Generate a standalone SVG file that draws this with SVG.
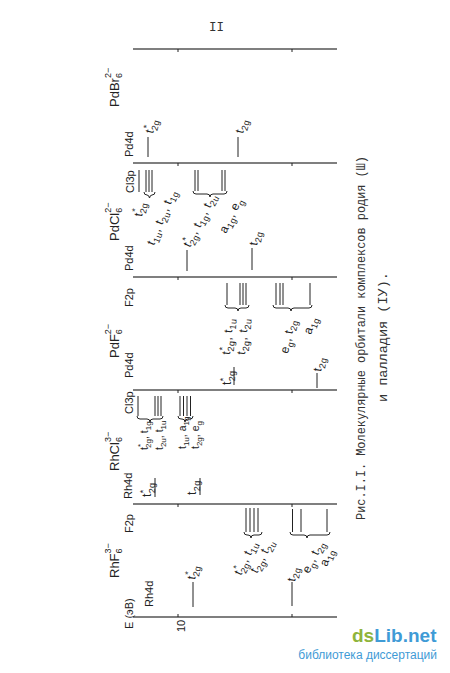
<svg xmlns="http://www.w3.org/2000/svg" width="450" height="673" viewBox="0 0 450 673">
<style>
.t{font-family:"Liberation Sans","DejaVu Sans",sans-serif;font-size:11px;fill:#222}
.l{font-size:12px;letter-spacing:0.4px}
.m{font-size:10.5px;letter-spacing:0}
.h{font-size:13px}
.s{font-size:9px}
.s2{font-size:8px}
.hs{font-size:9px}
.cap{font-family:"Liberation Mono","DejaVu Sans Mono",monospace;font-size:12.5px;fill:#333}
.sep{stroke:#555;stroke-width:1.6;fill:none}
.lv{stroke:#222;stroke-width:1;fill:none}
.br{fill:none;stroke:#222;stroke-width:1}
</style>
<rect width="450" height="673" fill="#fff"/>
<text class="cap" x="209" y="31" font-size="11">II</text>

<g id="axes">
  <path class="sep" d="M133 49H337M133 163H337M133 277H337M133 390H337M133 504H337M133 617H337"/>
  <path class="lv" d="M178 49v3M292 49v3M178 163v3M292 163v3M178 277v3M292 277v3M178 390v3M292 390v3M178 504v3M292 504v3M178 614v3M292 614v3"/>
</g>

<g id="panel-PdBr6">
  <text class="t h" transform="translate(119,107) rotate(-90)">PdBr<tspan class="hs" dy="3">6</tspan><tspan class="hs" dx="-5" dy="-11">2−</tspan></text>
  <text class="t" transform="translate(133,157) rotate(-90)">Pd4d</text>
  <path class="lv" d="M148 137V157M238 137V157"/>
  <text class="t l" transform="translate(153,134) rotate(-76)">t<tspan class="s" dy="-5">*</tspan><tspan class="s" dx="-4" dy="8.5">2g</tspan></text>
  <text class="t l" transform="translate(243,134) rotate(-76)">t<tspan class="s" dy="3.5">2g</tspan></text>
</g>

<g id="panel-PdCl6">
  <text class="t h" transform="translate(119,241) rotate(-90)">PdCl<tspan class="hs" dy="3">6</tspan><tspan class="hs" dx="-5" dy="-11">2−</tspan></text>
  <text class="t" transform="translate(133,271) rotate(-90)">Pd4d</text>
  <text class="t" transform="translate(134,193) rotate(-90)">Cl3p</text>
  <path class="lv" d="M139 170V192M146 170V192M149 170V192M152 170V192"/>
  <path class="br" d="M144 192q0 3 3 3H147q2 0 2.5 3q0.5 -3 2.5 -3H152q3 0 3 -3"/>
  <text class="t l" transform="translate(142,217) rotate(-80)">t<tspan class="s" dy="-5">*</tspan><tspan class="s" dx="-4" dy="8.5">2g</tspan></text>
  <text class="t l" transform="translate(154,246) rotate(-68)">t<tspan class="s" dy="3.5">1u</tspan><tspan dy="-3.5">, t</tspan><tspan class="s" dy="3.5">2u</tspan><tspan dy="-3.5">, t</tspan><tspan class="s" dy="3.5">1g</tspan></text>
  <path class="lv" d="M187 250V271M252 248V270"/>
  <text class="t l" transform="translate(190,248) rotate(-63)">t<tspan class="s" dy="-5">*</tspan><tspan class="s" dx="-4" dy="8.5">2g</tspan><tspan dy="-3.5">, t</tspan><tspan class="s" dy="3.5">1g</tspan><tspan dy="-3.5">, t</tspan><tspan class="s" dy="3.5">2u</tspan></text>
  <path class="lv" d="M195 170V191M198 170V191M222 170V191M225 170V191"/>
  <path class="br" d="M193 191q0 3 3 3H207q3 0 3 3q0 -3 3 -3H224q3 0 3 -3"/>
  <text class="t l" transform="translate(226,234) rotate(-64)">a<tspan class="s" dy="3.5">1g</tspan><tspan dy="-3.5">, e</tspan><tspan class="s" dy="3.5">g</tspan></text>
  <text class="t l" transform="translate(257,246) rotate(-80)">t<tspan class="s" dy="3.5">2g</tspan></text>
</g>

<g id="panel-PdF6">
  <text class="t h" transform="translate(119,358) rotate(-90)">PdF<tspan class="hs" dy="3">6</tspan><tspan class="hs" dx="-5" dy="-11">2−</tspan></text>
  <text class="t" transform="translate(133,378) rotate(-90)">Pd4d</text>
  <text class="t" transform="translate(133,307) rotate(-90)">F2p</text>
  <path class="lv" d="M234 367V385M317 373V388"/>
  <text class="t l" transform="translate(231,385) rotate(-90)">t<tspan class="s" dy="-5">*</tspan><tspan class="s" dx="-4" dy="8.5">2g</tspan></text>
  <text class="t l" transform="translate(321,372) rotate(-80)">t<tspan class="s" dy="3.5">2g</tspan></text>
  <path class="lv" d="M227 283V305M240 283V305M243 283V305M246 283V305"/>
  <path class="br" d="M225 305q0 3 3 3H235q3 0 3 3q0 -3 3 -3H246q3 0 3 -3"/>
  <text class="t l" transform="translate(230,355) rotate(-85)">t<tspan class="s" dy="-5">*</tspan><tspan class="s" dx="-4" dy="8.5">2g</tspan><tspan dy="-3.5">, t</tspan><tspan class="s" dy="3.5">1u</tspan></text>
  <text class="t l" transform="translate(245,355) rotate(-85)">t<tspan class="s" dy="3.5">2g</tspan><tspan dy="-3.5">, t</tspan><tspan class="s" dy="3.5">2u</tspan></text>
  <path class="lv" d="M276 283V305M280 283V305M283 283V305M310 283V305"/>
  <path class="br" d="M273 305q0 3 3 3H288q3 0 3 3q0 -3 3 -3H309q3 0 3 -3"/>
  <text class="t l" transform="translate(288,354) rotate(-78)">e<tspan class="s" dy="3.5">g</tspan><tspan dy="-3.5">, t</tspan><tspan class="s" dy="3.5">2g</tspan></text>
  <text class="t l" transform="translate(311,335) rotate(-72)">a<tspan class="s" dy="3.5">1g</tspan></text>
</g>

<g id="panel-RhCl6">
  <text class="t h" transform="translate(119,471) rotate(-90)">RhCl<tspan class="hs" dy="3">6</tspan><tspan class="hs" dx="-5" dy="-11">3−</tspan></text>
  <text class="t" transform="translate(132,499) rotate(-90)">Rh4d</text>
  <text class="t" transform="translate(133,414) rotate(-90)">Cl3p</text>
  <path class="lv" d="M155 478V497M200 478V495"/>
  <text class="t l" transform="translate(151,497) rotate(-90)">t<tspan class="s" dy="-5">*</tspan><tspan class="s" dx="-4" dy="8.5">2g</tspan></text>
  <text class="t l" transform="translate(196,495) rotate(-90)">t<tspan class="s" dy="3.5">2g</tspan></text>
  <path class="lv" d="M138 396V416M155 396V416M158 396V416M161 396V416"/>
  <path class="br" d="M137 416q0 3 3 3H147q3 0 3 3q0 -3 3 -3H160q3 0 3 -3"/>
  <text class="t m" transform="translate(148,450) rotate(-90)">t<tspan class="s2" dy="-5">*</tspan><tspan class="s2" dx="-4" dy="8">2g</tspan><tspan dy="-3">, t</tspan><tspan class="s2" dy="3">1g</tspan></text>
  <text class="t m" transform="translate(163,450) rotate(-90)">t<tspan class="s2" dy="3">2u</tspan><tspan dy="-3">, t</tspan><tspan class="s2" dy="3">1u</tspan></text>
  <path class="lv" d="M180 396V416M183.5 396V416M187 396V416M190.5 396V416"/>
  <path class="br" d="M178 416q0 3 3 3H182q3 0 3 3q0 -3 3 -3H190q3 0 3 -3"/>
  <text class="t m" transform="translate(186,449) rotate(-90)">t<tspan class="s2" dy="3">1u</tspan><tspan dy="-3">, a</tspan><tspan class="s2" dy="3">1g</tspan></text>
  <text class="t m" transform="translate(199,449) rotate(-90)">t<tspan class="s2" dy="3">2g</tspan><tspan dy="-3">, e</tspan><tspan class="s2" dy="3">g</tspan></text>
</g>

<g id="panel-RhF6">
  <text class="t h" transform="translate(119,578) rotate(-90)">RhF<tspan class="hs" dy="3">6</tspan><tspan class="hs" dx="-5" dy="-11">3−</tspan></text>
  <text class="t" transform="translate(133,629) rotate(-90)">E (эВ)</text>
  <text class="t" transform="translate(153,607) rotate(-90)">Rh4d</text>
  <text class="t" transform="translate(133,533) rotate(-90)">F2p</text>
  <text class="t" transform="translate(185,632) rotate(-90)">10</text>
  <path class="lv" d="M193 582V607M292 582V606"/>
  <text class="t l" transform="translate(195,580) rotate(-80)">t<tspan class="s" dy="-5">*</tspan><tspan class="s" dx="-4" dy="8.5">2g</tspan></text>
  <text class="t l" transform="translate(295,582) rotate(-80)">t<tspan class="s" dy="3.5">2g</tspan></text>
  <path class="lv" d="M246 508V532M250 508V532M254 508V532M258 508V532"/>
  <path class="br" d="M244 532q0 3 3 3H248q3 0 3 3q0 -3 3 -3H259q3 0 3 -3"/>
  <text class="t l" transform="translate(241,576) rotate(-64)">t<tspan class="s" dy="-5">*</tspan><tspan class="s" dx="-4" dy="8.5">2g</tspan><tspan dy="-3.5">, t</tspan><tspan class="s" dy="3.5">1u</tspan></text>
  <text class="t l" transform="translate(257,574) rotate(-62)">t<tspan class="s" dy="3.5">2g</tspan><tspan dy="-3.5">, t</tspan><tspan class="s" dy="3.5">2u</tspan></text>
  <path class="lv" d="M292.5 509V532M301 509V532M327 509V532"/>
  <path class="br" d="M290 532q0 3 3 3H304q3 0 3 3q0 -3 3 -3H327q3 0 3 -3"/>
  <text class="t l" transform="translate(309,574) rotate(-64)">e<tspan class="s" dy="3.5">g</tspan><tspan dy="-3.5">, t</tspan><tspan class="s" dy="3.5">2g</tspan></text>
  <text class="t l" transform="translate(327,567) rotate(-70)">a<tspan class="s" dy="3.5">1g</tspan></text>
</g>

<g id="caption">
  <text class="cap" transform="translate(365,520) rotate(-90)" textLength="364" lengthAdjust="spacingAndGlyphs">Рис.I.I. Молекулярные  орбитали комплексов родия (Ш)</text>
  <text class="cap" transform="translate(387,402) rotate(-90)" textLength="130" lengthAdjust="spacingAndGlyphs">и палладия (IУ).</text>
</g>

<g id="watermark">
  <text x="352" y="642" font-family="Liberation Sans,Arial,sans-serif" font-weight="bold" font-size="19"><tspan fill="#8fb43c">ds</tspan><tspan fill="#3f9bd6">Lib.net</tspan></text>
  <text x="437" y="659" text-anchor="end" font-family="Liberation Sans,Arial,sans-serif" font-size="12" fill="#3f9bd6">библиотека диссертаций</text>
</g>
</svg>
